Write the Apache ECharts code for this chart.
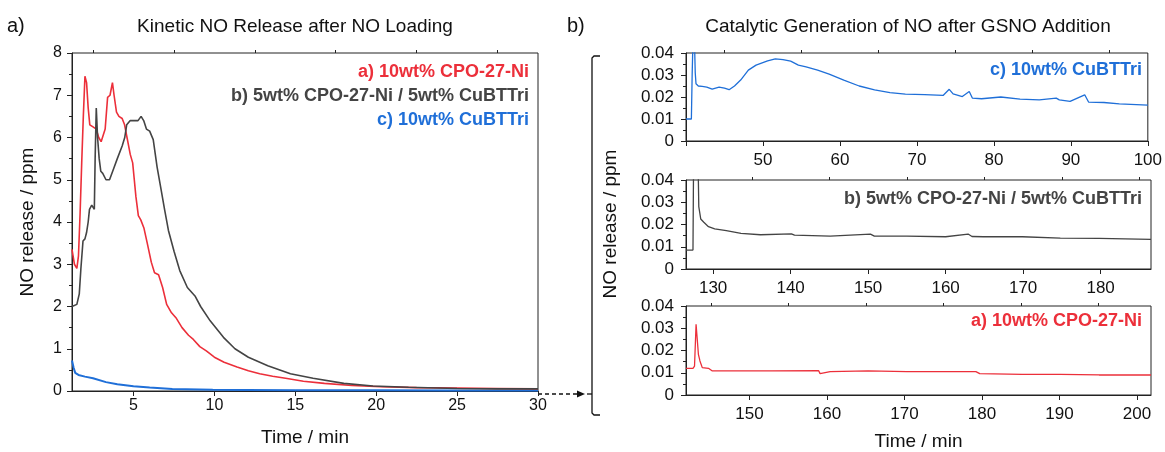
<!DOCTYPE html>
<html>
<head>
<meta charset="utf-8">
<script src="https://cdn.jsdelivr.net/npm/echarts@6/dist/echarts.min.js"></script>
<style>
  html, body { margin: 0; padding: 0; background: #fff; }
  #chart { width: 1165px; height: 452px; }
</style>
</head>
<body>
<div id="chart"></div>
<script>
// ---- left panel: kinetic NO release (time in min, NO in ppm)
var kinTimeA = [1.2, 1.35, 1.5, 1.6, 1.7, 1.8, 1.9, 2.0, 2.1, 2.2, 2.3, 2.5, 2.7, 2.85, 3.0, 3.1, 3.25, 3.4, 3.55, 3.7, 3.8, 3.95, 4.1, 4.3, 4.45, 4.6, 4.8, 4.95, 5.05, 5.15, 5.3, 5.45, 5.65, 5.85, 6.1, 6.3, 6.55, 6.8, 7.05, 7.35, 7.65, 8.0, 8.4, 8.7, 9.1, 9.5, 10.0, 10.6, 11.4, 12.1, 12.8, 13.6, 14.4, 15.5, 16.8, 18.5, 20.3, 22.5, 25, 27.5, 30];
var kinNoA   = [3.35, 3.0, 2.9, 3.2, 4.2, 5.4, 6.5, 7.45, 7.3, 6.7, 6.3, 6.25, 6.2, 6.0, 5.9, 5.9, 6.2, 6.95, 7.0, 7.3, 7.0, 6.6, 6.5, 6.45, 6.3, 6.0, 5.6, 5.4, 5.0, 4.6, 4.15, 4.05, 3.85, 3.5, 3.05, 2.8, 2.75, 2.45, 2.05, 1.85, 1.72, 1.5, 1.32, 1.22, 1.05, 0.95, 0.8, 0.68, 0.57, 0.48, 0.41, 0.35, 0.3, 0.23, 0.18, 0.13, 0.1, 0.08, 0.07, 0.06, 0.05];

var kinTimeB = [1.2, 1.5, 1.65, 1.75, 1.88, 2.0, 2.1, 2.2, 2.28, 2.42, 2.58, 2.63, 2.7, 2.78, 2.88, 2.98, 3.1, 3.3, 3.52, 3.76, 4.0, 4.3, 4.46, 4.58, 4.8, 5.05, 5.28, 5.47, 5.63, 5.8, 6.0, 6.22, 6.46, 6.69, 6.92, 7.16, 7.51, 7.86, 8.33, 8.8, 9.15, 9.74, 10.56, 11.27, 12.1, 13.3, 14.7, 16.1, 18.0, 19.8, 22, 25, 27.5, 30];
var kinNoB   = [2.0, 2.05, 2.3, 2.9, 3.55, 3.6, 3.75, 4.0, 4.3, 4.4, 4.3, 5.5, 6.7, 6.0, 5.5, 5.2, 5.15, 5.0, 5.0, 5.25, 5.5, 5.8, 6.0, 6.3, 6.4, 6.4, 6.4, 6.5, 6.4, 6.2, 6.15, 5.95, 5.3, 4.8, 4.3, 3.8, 3.3, 2.85, 2.45, 2.25, 2.0, 1.66, 1.27, 1.0, 0.8, 0.6, 0.41, 0.3, 0.18, 0.12, 0.09, 0.06, 0.05, 0.05];

var kinTimeC = [1.2, 1.3, 1.4, 1.6, 2.0, 2.5, 3.3, 4.0, 5.0, 6.0, 7.4, 9.9, 12, 15, 20, 25, 30];
var kinNoC   = [0.72, 0.55, 0.43, 0.38, 0.34, 0.3, 0.21, 0.16, 0.11, 0.08, 0.05, 0.03, 0.025, 0.02, 0.015, 0.012, 0.01];

var kinTicks = [5, 10, 15, 20, 25, 30];
var kinMinorTicks = [2.5, 7.5, 12.5, 17.5, 22.5, 27.5];

// ---- right panel: catalytic generation after GSNO addition
var catTimeC = [40, 40.7, 40.8, 41.0, 41.1, 41.2, 41.3, 41.6, 42.1, 42.7, 43.4, 44.3, 45.0, 45.6, 46.3, 47.1, 48.1, 49.1, 50.6, 51.6, 52.6, 53.6, 54.6, 55.6, 57.1, 58.6, 60.5, 62.5, 64.5, 66.5, 68.5, 71, 73.4, 74.2, 74.7, 75.9, 76.8, 77.2, 78.4, 80.9, 83.4, 85.9, 88.1, 88.5, 89.9, 91.8, 92.3, 94.3, 96.3, 100];
var catNoC   = [0.01, 0.01, 0.03, 0.06, 0.06, 0.031, 0.026, 0.025, 0.0248, 0.0245, 0.0236, 0.0245, 0.024, 0.0233, 0.025, 0.0277, 0.0322, 0.0345, 0.0364, 0.0373, 0.037, 0.0363, 0.0345, 0.0337, 0.0322, 0.0304, 0.0277, 0.025, 0.0232, 0.022, 0.0213, 0.0211, 0.0207, 0.0235, 0.0214, 0.0202, 0.0225, 0.0195, 0.0192, 0.02, 0.019, 0.0187, 0.0195, 0.0187, 0.018, 0.021, 0.0177, 0.0175, 0.0169, 0.0163];
var catTicksC = [40, 50, 60, 70, 80, 90, 100];
var catMinorC = [45, 55, 65, 75, 85, 95];

var catTimeB = [126.5, 127.4, 127.5, 127.8, 128.05, 128.15, 128.4, 128.8, 129.4, 130.2, 131.7, 133.6, 136.1, 140.1, 140.5, 145.1, 150.3, 150.8, 155, 160, 162.9, 163.4, 164.9, 169.9, 174.8, 179.8, 186.5];
var catNoB   = [0.0085, 0.0085, 0.06, 0.06, 0.05, 0.028, 0.0225, 0.021, 0.019, 0.018, 0.0172, 0.016, 0.0154, 0.0158, 0.0152, 0.0148, 0.0157, 0.0148, 0.0148, 0.0145, 0.0157, 0.0146, 0.0145, 0.0145, 0.0139, 0.0138, 0.0133];
var catTicksB = [130, 140, 150, 160, 170, 180];
var catMinorB = [135, 145, 155, 165, 175, 185];

var catTimeA = [141.8, 142.7, 142.9, 143.1, 143.2, 143.4, 143.6, 143.9, 144.7, 145.2, 147.9, 152.9, 158.9, 159.1, 160.4, 165.3, 170.3, 175.3, 179.2, 179.7, 185.2, 190.1, 195.1, 201.8];
var catNoA   = [0.012, 0.012, 0.013, 0.0318, 0.0273, 0.0183, 0.0153, 0.0123, 0.012, 0.0108, 0.0108, 0.0108, 0.011, 0.0096, 0.0105, 0.0108, 0.0105, 0.0105, 0.0105, 0.0096, 0.0093, 0.0093, 0.009, 0.009];
var catTicksA = [150, 160, 170, 180, 190, 200];
var catMinorA = [145, 155, 165, 175, 185, 195];

var labelA = 'a) 10wt% CPO-27-Ni';
var labelB = 'b) 5wt% CPO-27-Ni / 5wt% CuBTTri';
var labelC = 'c) 10wt% CuBTTri';

var RED = '#ec2f3a', GRAY = '#444444', BLUE = '#1f6fd8';
var FONT = 'Liberation Sans';
var AXIS = '#222';

function pairs(t, v) {
  return t.map(function (x, i) { return [x, v[i]]; });
}

// major axis with labels + overlaid minor-tick axis
function xPair(grid, min, max, ticks, minor, name, hideFirst, fs, margin) {
  var major = {
    type: 'value', gridIndex: grid, min: min, max: max,
    axisLine: { lineStyle: { color: AXIS } },
    axisTick: { customValues: ticks, length: 5, lineStyle: { color: AXIS } },
    axisLabel: {
      customValues: hideFirst ? ticks.slice(1) : ticks,
      color: '#111', fontSize: fs, fontFamily: FONT, margin: margin
    },
    splitLine: { show: false }
  };
  if (name) {
    major.name = name;
    major.nameLocation = 'middle';
    major.nameGap = 37;
    major.nameTextStyle = { color: '#111', fontSize: 19, fontFamily: FONT };
  }
  var minorAx = {
    type: 'value', gridIndex: grid, min: min, max: max,
    axisLine: { show: false },
    axisTick: { customValues: minor, length: 3, lineStyle: { color: AXIS } },
    axisLabel: { show: false },
    splitLine: { show: false }
  };
  return [major, minorAx];
}

function yAx(grid, max, interval, name, fs, margin) {
  var ax = {
    type: 'value', gridIndex: grid, min: 0, max: max, interval: interval,
    axisLine: { show: true, lineStyle: { color: AXIS } },
    axisTick: { show: true, length: 5, lineStyle: { color: AXIS } },
    minorTick: { show: true, splitNumber: 2, length: 3, lineStyle: { color: AXIS } },
    axisLabel: {
      color: '#111', fontSize: fs, fontFamily: FONT, margin: margin,
      formatter: function (v) { return v === 0 ? '0' : (max < 1 ? v.toFixed(2) : String(v)); }
    },
    splitLine: { show: false }
  };
  if (name) {
    ax.name = name;
    ax.nameLocation = 'middle';
    ax.nameGap = 35;
    ax.nameTextStyle = { color: '#111', fontSize: 19, fontFamily: FONT };
  }
  return ax;
}

function line(xi, yi, data, color, w) {
  return {
    type: 'line', xAxisIndex: xi, yAxisIndex: yi, data: data,
    showSymbol: false, clip: true, silent: true, animation: false,
    lineStyle: { color: color, width: w }
  };
}

var gridBox = { show: true, borderColor: AXIS, borderWidth: 1, backgroundColor: 'transparent' };
var grids = [
  Object.assign({ left: 72, top: 53, width: 466, height: 341 }, gridBox),
  Object.assign({ left: 686, top: 53, width: 465, height: 88 }, gridBox),
  Object.assign({ left: 686, top: 180, width: 465, height: 89 }, gridBox),
  Object.assign({ left: 686, top: 306, width: 465, height: 89 }, gridBox)
];

var xAxes = []
  .concat(xPair(0, 1.2, 30, kinTicks, kinMinorTicks, 'Time / min', false, 16, 7))
  .concat(xPair(1, 40, 100, catTicksC, catMinorC, null, true, 17, 11))
  .concat(xPair(2, 126.5, 186.5, catTicksB, catMinorB, null, false, 17, 11))
  .concat(xPair(3, 141.8, 201.8, catTicksA, catMinorA, 'Time / min', false, 17, 11));

var yAxes = [
  yAx(0, 8, 1, 'NO release / ppm', 16, 10),
  yAx(1, 0.04, 0.01, null, 17, 12),
  yAx(2, 0.04, 0.01, null, 17, 12),
  yAx(3, 0.04, 0.01, null, 17, 12)
];

function txt(x, y, s, color, size, weight, align) {
  return {
    type: 'text', x: x, y: y, silent: true,
    style: {
      text: s, fill: color, font: (weight || 'normal') + ' ' + size + 'px "' + FONT + '"',
      textAlign: align || 'left', textVerticalAlign: 'middle'
    }
  };
}

var chart = echarts.init(document.getElementById('chart'), null, { renderer: 'canvas' });
chart.setOption({
  backgroundColor: '#fff',
  animation: false,
  grid: grids,
  xAxis: xAxes,
  yAxis: yAxes,
  series: [
    line(0, 0, pairs(kinTimeC, kinNoC), BLUE, 2),
    line(0, 0, pairs(kinTimeA, kinNoA), RED, 1.6),
    line(0, 0, pairs(kinTimeB, kinNoB), GRAY, 1.6),
    line(2, 1, pairs(catTimeC, catNoC), BLUE, 1.3),
    line(4, 2, pairs(catTimeB, catNoB), GRAY, 1.3),
    line(6, 3, pairs(catTimeA, catNoA), RED, 1.3)
  ],
  graphic: [
    txt(7, 26, 'a)', '#111', 20),
    txt(295, 27, 'Kinetic NO Release after NO Loading', '#111', 19, 'normal', 'center'),
    txt(567, 26, 'b)', '#111', 20),
    txt(908, 27, 'Catalytic Generation of NO after GSNO Addition', '#111', 19, 'normal', 'center'),
    txt(529, 72, labelA, RED, 18, 'bold', 'right'),
    txt(529, 96, labelB, GRAY, 18, 'bold', 'right'),
    txt(529, 120, labelC, BLUE, 18, 'bold', 'right'),
    txt(1142, 70, labelC, BLUE, 18, 'bold', 'right'),
    txt(1142, 199, labelB, GRAY, 18, 'bold', 'right'),
    txt(1142, 321, labelA, RED, 18, 'bold', 'right'),
    {
      type: 'text', x: 611, y: 224, rotation: Math.PI / 2, silent: true,
      style: { text: 'NO release / ppm', fill: '#111', font: '19px "' + FONT + '"', textAlign: 'center', textVerticalAlign: 'middle' }
    },
    // dashed arrow towards the bracket
    {
      type: 'line', silent: true,
      shape: { x1: 538, y1: 394, x2: 578, y2: 394 },
      style: { stroke: '#111', lineWidth: 1.3, lineDash: [4, 3] }
    },
    {
      type: 'polygon', silent: true,
      shape: { points: [[577, 390.5], [585, 394], [577, 397.5]] },
      style: { fill: '#111' }
    },
    {
      type: 'line', silent: true,
      shape: { x1: 587, y1: 394, x2: 592, y2: 394 },
      style: { stroke: '#111', lineWidth: 1.3 }
    },
    {
      type: 'polyline', silent: true,
      shape: { points: [[600, 56], [594, 56], [592, 58], [592, 413], [594, 415], [600, 415]] },
      style: { stroke: '#111', lineWidth: 1.3, fill: null }
    }
  ]
});
</script>
</body>
</html>
